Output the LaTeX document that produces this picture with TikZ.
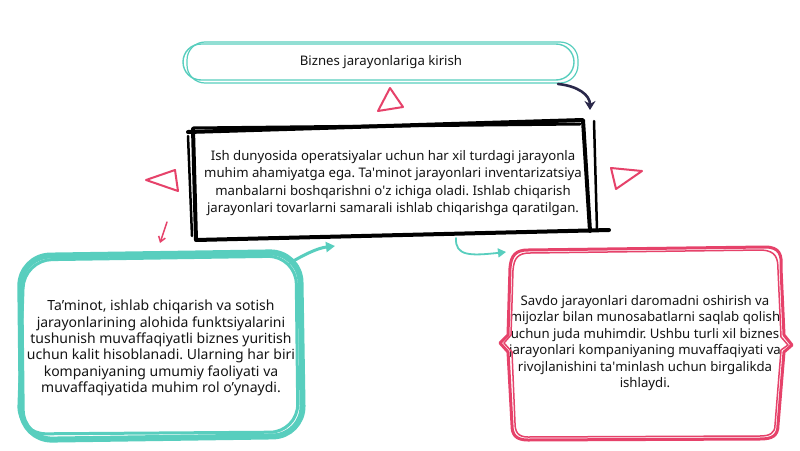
\documentclass[tikz,border=0pt]{standalone}
\usepackage{fontspec}
\setmainfont{Noto Sans}
\usetikzlibrary{arrows.meta}
\definecolor{tealA}{RGB}{88,206,190}
\definecolor{redA}{RGB}{230,66,106}
\definecolor{navyA}{RGB}{42,40,74}
\newcommand{\sq}{\textquotesingle}
\begin{document}
\frenchspacing
\begin{tikzpicture}[x=1pt,y=-1pt,
  txt/.style={font=\fontsize{13.2}{17.2}\selectfont, align=center, text=black!92, inner sep=0pt},
  txtl/.style={txt, font=\fontsize{14}{16.3}\selectfont},
  txtr/.style={txt, font=\fontsize{13.2}{16.5}\selectfont},
  tealsk/.style={draw=tealA, line cap=round, line join=round},
  redsk/.style={draw=redA, line cap=round, line join=round},
  blksk/.style={draw=black, line cap=round, line join=round},
  tri/.style={draw=redA, line width=2pt, line join=round}]
\fill[white] (0,0) rectangle (800,450);
\useasboundingbox (0,0) rectangle (800,450);

% ---------- top pill ----------
\draw[tealsk, line width=1.4pt, rounded corners=18pt] (183,44) rectangle (574,80);
\draw[tealsk, line width=1.2pt, rounded corners=18pt] (187,42) rectangle (578,83);
\node[txt] (pill) at (381,62) {Biznes jarayonlariga kirish};
\coordinate (pillout) at (558,84);

% ---------- central black box ----------
\node[txt] (center) at (393,183) {Ish dunyosida operatsiyalar uchun har xil turdagi jarayonla\\
muhim ahamiyatga ega. Ta\sq minot jarayonlari inventarizatsiya\\
manbalarni boshqarishni o\sq z ichiga oladi. Ishlab chiqarish\\
jarayonlari tovarlarni samarali ishlab chiqarishga qaratilgan.};
\draw[blksk, line width=4pt] (188,132) -- (583,120) -- (590,231);
\draw[blksk, line width=3pt] (193,128) -- (580,124);
\draw[blksk, line width=4pt] (193,129) -- (196,240) -- (609,230);
\draw[blksk, line width=2.5pt] (188,136) -- (192,236);
\draw[blksk, line width=2.5pt] (594,121) -- (597,230);
\coordinate (ctop) at (590,110);
\coordinate (cbl) at (335,246);
\coordinate (cbr) at (456,238);

% ---------- left teal box ----------
\draw[tealsk, line width=6pt, rounded corners=30pt] (20,256) -- (300,252) -- (303,436) -- (22,440) -- cycle;
\draw[tealsk, line width=3pt, rounded corners=28pt] (24,260) -- (296,256) -- (298,432) -- (18,434) -- cycle;
\node[txtl] (left) at (161,348) {Ta’minot, ishlab chiqarish va sotish\\
jarayonlarining alohida funktsiyalarini\\
tushunish muvaffaqiyatli biznes yuritish\\
uchun kalit hisoblanadi. Ularning har biri\\
kompaniyaning umumiy faoliyati va\\
muvaffaqiyatida muhim rol o’ynaydi.};
\coordinate (lout) at (290,263);

% ---------- right red box ----------
\node[txtr] (right) at (645,343) {Savdo jarayonlari daromadni oshirish va\\
mijozlar bilan munosabatlarni saqlab qolish\\
uchun juda muhimdir. Ushbu turli xil biznes\\
jarayonlari kompaniyaning muvaffaqiyati va\\
rivojlanishini ta\sq minlash uchun birgalikda\\
ishlaydi.};
\draw[redsk, line width=3pt] (528,250) -- (765,247) .. controls (780,247) and (782,255) .. (781,268)
  -- (784,335) -- (792,345) -- (784,352) -- (778,425) .. controls (778,436) and (772,439) .. (760,439)
  -- (528,440) .. controls (515,440) and (512,434) .. (512,425) -- (508,352) -- (500,343) -- (508,335)
  -- (510,268) .. controls (511,255) and (516,250) .. (528,250);
\draw[redsk, line width=1.5pt] (530,253) -- (762,250) .. controls (776,251) and (778,258) .. (778,270)
  -- (781,337) -- (788,345) -- (781,350) -- (775,425) .. controls (775,433) and (770,436) .. (760,436)
  -- (528,437) .. controls (518,437) and (515,432) .. (515,423) -- (512,352) -- (504,343) -- (511,335)
  -- (513,270) .. controls (514,258) and (518,253) .. (530,253);
\coordinate (rin) at (506,252);

% ---------- connectors ----------
\draw[navyA, line width=2.6pt, line cap=round, -{Stealth[length=9pt,width=11pt]}]
  (pillout) .. controls (578,86) and (590,95) .. (ctop);
\draw[tealA, line width=3pt, line cap=round, -{Triangle[length=9pt,width=10pt]}]
  (lout) .. controls (305,254) and (318,248) .. (cbl);
\draw[tealA, line width=1.8pt, line cap=round, -{Triangle[length=8pt,width=9pt]}]
  (cbr) .. controls (455,256) and (470,256) .. (rin);
\coordinate (rs) at (167,222);
\coordinate (re) at (160,243);
\draw[redA, line width=1.5pt, line cap=round, -{Straight Barb[length=5pt,width=7pt]}] (rs) -- (re);

% ---------- decorative triangles ----------
\draw[tri] (390,88) -- (403,107) -- (378,111) -- cycle;
\draw[tri] (146,180) -- (175,170) -- (178,191) -- cycle;
\draw[tri] (611,168) -- (642,171) -- (616,189) -- cycle;
\end{tikzpicture}
\end{document}
